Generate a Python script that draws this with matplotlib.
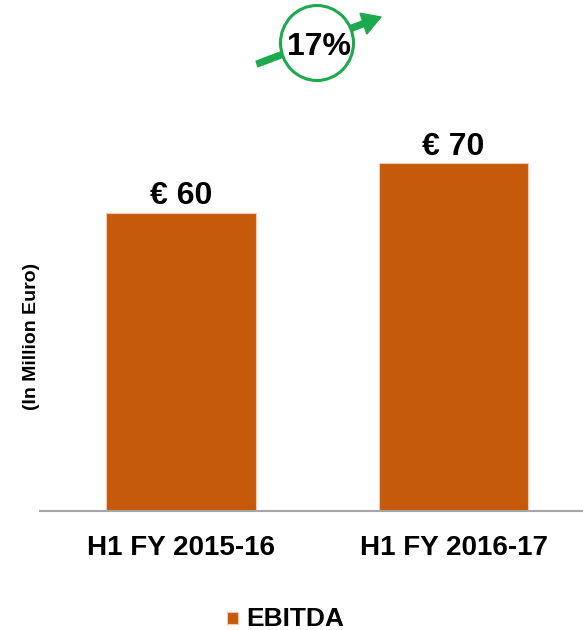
import matplotlib
matplotlib.use("Agg")
import matplotlib.pyplot as plt
from matplotlib.patches import Ellipse, FancyArrow, Rectangle

categories = ["H1 FY 2015-16", "H1 FY 2016-17"]
ebitda = [60, 70]
value_labels = ["€ 60", "€ 70"]
growth_label = "17%"
series_name = "EBITDA"
ylabel = "(In Million Euro)"

plt.rcParams['font.family'] = ['Liberation Sans', 'DejaVu Sans']
BAR = "#C55A0A"
GREEN = "#1DAA4E"

fig = plt.figure(figsize=(5.83, 6.30), dpi=100)
ax = fig.add_axes([40/583, 119/630, 543/583, 421/630])
x = list(range(len(categories)))
ax.bar(x, ebitda, width=0.55, color=BAR, edgecolor="#F4C7B0", linewidth=0.8, zorder=2)
ax.set_xlim(-0.517, 1.475)
ax.set_ylim(0, 84.7)
for s in ["top", "right", "left"]:
    ax.spines[s].set_visible(False)
ax.spines["bottom"].set_color("#A6A6A6")
ax.spines["bottom"].set_linewidth(1.5)
ax.set_yticks([])
ax.set_xticks(x)
ax.set_xticklabels(categories, fontsize=20, fontweight="bold")
ax.tick_params(axis="x", length=0, pad=17)
for xi, v, lab in zip(x, ebitda, value_labels):
    ax.annotate(lab, (xi, v), xytext=(0, 6), textcoords="offset points",
                ha="center", va="baseline", fontsize=23, fontweight="bold")

fig.text(32/583, 1 - 336/630, ylabel, rotation=90, ha="center", va="center",
         fontsize=14, fontweight="bold")

# legend
fig.patches.append(Rectangle((227/583, 1 - 624/630), 11/583, 12/630,
                             transform=fig.transFigure, facecolor=BAR,
                             edgecolor="#F4C7B0", linewidth=0.8))
fig.text(246/583, 1 - 626/630, series_name, ha="left", va="baseline",
         fontsize=19, fontweight="bold")

# growth badge
fig.patches.append(FancyArrow(257/583, 1 - 64/630, (381 - 257)/583, (64 - 17)/630,
                              width=0.0095, head_width=0.035, head_length=0.032,
                              length_includes_head=True, color=GREEN,
                              transform=fig.transFigure))
fig.patches.append(Ellipse((317/583, 1 - 43/630), 73/583, 75/630,
                           transform=fig.transFigure, facecolor="white",
                           edgecolor=GREEN, linewidth=2.2))
fig.text(319/583, 1 - 55/630, growth_label, ha="center", va="baseline",
         fontsize=23, fontweight="bold")

fig.savefig("out.png", dpi=100)
